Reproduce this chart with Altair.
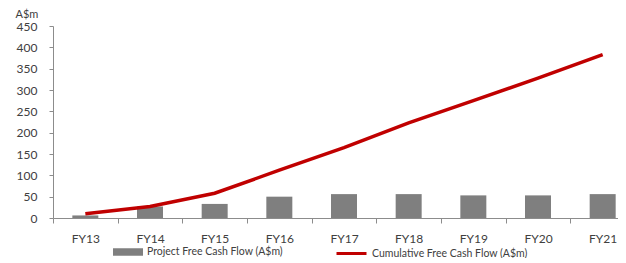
import altair as alt
import pandas as pd

years = ["FY13", "FY14", "FY15", "FY16", "FY17", "FY18", "FY19", "FY20", "FY21"]
project_fcf = [6, 27, 33, 50, 56, 56, 53, 53, 56]
cumulative_fcf = [10, 27, 58, 112, 165, 223, 275, 328, 383]
y_ticks = [0, 50, 100, 150, 200, 250, 300, 350, 400, 450]
bar_name = "Project Free Cash Flow (A$m)"
line_name = "Cumulative Free Cash Flow (A$m)"

df = pd.DataFrame({
    "year": years,
    "project": project_fcf,
    "cumulative": cumulative_fcf,
    "bar_series": [bar_name] * len(years),
    "line_series": [line_name] * len(years),
})

FONT = "Lato"
TXT = "#404040"
AX = "#8c8c8c"

x_scale = alt.Scale(paddingInner=0, paddingOuter=0, range=[0, 582])
x_axis = alt.Axis(title=None, labelAngle=0, tickBand="extent",
                  domainColor=AX, tickColor=AX, tickSize=5,
                  labelPadding=10, labelFontSize=12, labelColor=TXT,
                  labelFont=FONT)

y_scale = alt.Scale(domain=[0, 450], nice=False)
y_axis = alt.Axis(title="A$m", titleAngle=0, titleX=-38, titleY=-12,
                  titleAlign="left", titleBaseline="middle",
                  titleFont=FONT, titleFontSize=11, titleFontWeight="normal",
                  titleColor=TXT, labelOverlap=False,
                  values=y_ticks, tickCount=10, grid=False,
                  domainColor=AX, tickColor=AX, tickSize=4,
                  labelPadding=12, labelFontSize=12, labelColor=TXT,
                  labelFont=FONT)

bars = alt.Chart(df).mark_bar(size=26).encode(
    x=alt.X("year:N", sort=years, scale=x_scale, axis=x_axis),
    y=alt.Y("project:Q", scale=y_scale, axis=y_axis),
    fill=alt.Fill("bar_series:N",
                  scale=alt.Scale(domain=[bar_name], range=["#7f7f7f"]),
                  legend=alt.Legend(title=None, orient="none", legendX=60, legendY=211,
                                    symbolType="M-1,-0.25H1V0.25H-1Z", symbolSize=900,
                                    symbolStrokeWidth=0, labelFont=FONT, labelFontSize=10.5,
                                    labelColor=TXT, labelOffset=4, padding=0)),
)

line = alt.Chart(df).mark_line(strokeWidth=3.5).encode(
    x=alt.X("year:N", sort=years, scale=x_scale, axis=x_axis),
    y=alt.Y("cumulative:Q", scale=y_scale, axis=y_axis),
    stroke=alt.Stroke("line_series:N",
                      scale=alt.Scale(domain=[line_name], range=["#c00000"]),
                      legend=alt.Legend(title=None, orient="none", legendX=282, legendY=211,
                                        symbolType="stroke", symbolSize=900,
                                        symbolStrokeWidth=3, labelFont=FONT, labelFontSize=10.5,
                                        labelColor=TXT, labelOffset=4, padding=0)),
)

chart = alt.layer(bars, line).properties(
    width=565, height=192,
    autosize=alt.AutoSizeParams(type="none"),
    padding={"left": 45, "top": 18, "right": 0, "bottom": 40},
).configure_view(stroke=None)

chart.save("out.html", embed_options={"renderer": "svg", "actions": False})
